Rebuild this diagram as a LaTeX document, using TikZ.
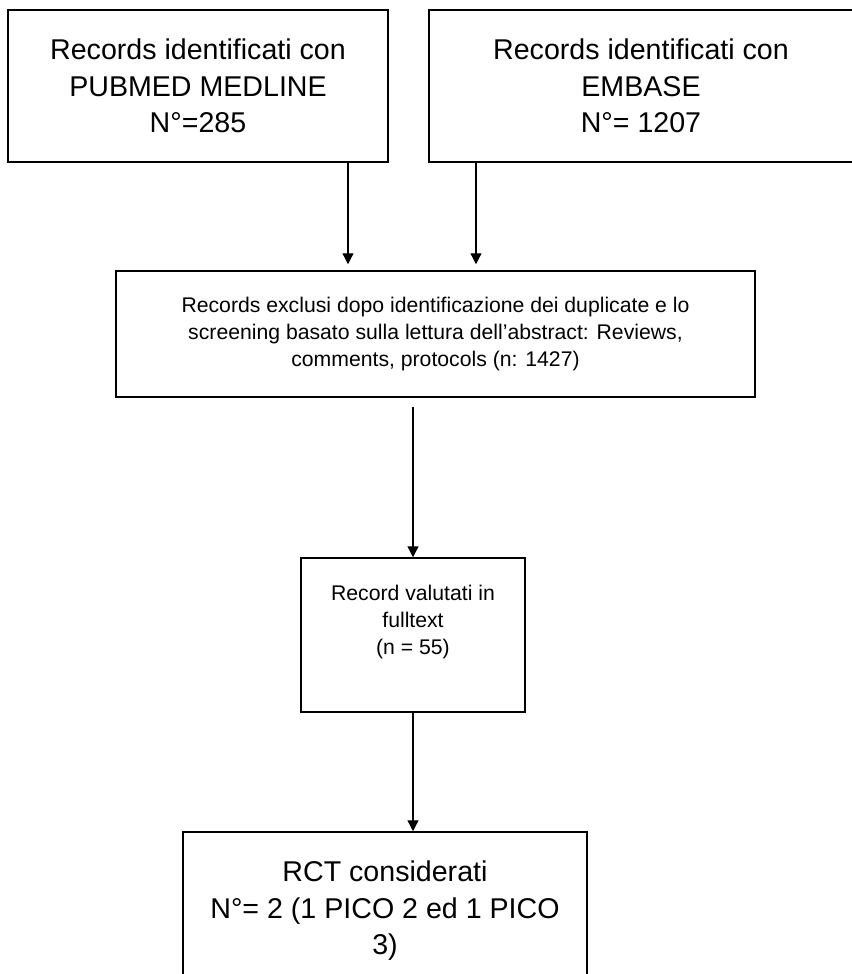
\documentclass[tikz,border=0pt]{standalone}
\usepackage{fontspec}
\setmainfont{Liberation Sans}
\usetikzlibrary{arrows.meta}

\begin{document}
\begin{tikzpicture}[x=1pt,y=-1pt,
  box/.style={draw,line width=1.5pt,align=center,inner sep=0pt},
  big/.style={font=\fontsize{28.6}{36.5}\selectfont},
  small/.style={font=\fontsize{21.2}{27}\selectfont},
  arr/.style={-{Triangle[width=11pt,length=11pt]},line width=1.3pt}]
  \useasboundingbox (0,0) rectangle (851,974);

  % データベース
  \node[box,big,minimum width=380pt,minimum height=152pt] (pubmed) at (198,86) {Records identificati con\\PUBMED MEDLINE\\N°=285};
  \node[box,big,minimum width=424pt,minimum height=152pt] (embase) at (641,86) {Records identificati con\\EMBASE\\N°= 1207};

  % スクリーニング
  \node[box,small,minimum width=639pt,minimum height=126pt] (screen) at (435.5,334) {Records exclusi dopo identificazione dei duplicate e lo\\screening basato sulla lettura dell’abstract: Reviews,\\comments, protocols (n: 1427)};

  % 全文
  \node[box,small,minimum width=224pt,minimum height=154pt,text depth=31pt] (fulltext) at (413,635) {Record valutati in\\fulltext\\(n = 55)};

  % 採用
  \node[box,big,minimum width=404pt,minimum height=158pt] (rct) at (385,911) {RCT considerati\\N°= 2 (1 PICO 2 ed 1 PICO\\3)};

  % 矢印
  \coordinate (p1) at ([xshift=150pt]pubmed.south);
  \coordinate (e1) at ([xshift=-165pt]embase.south);
  \coordinate (s1) at ([xshift=-22.5pt]screen.south);
  \draw[arr,shorten >=6pt] (p1) -- (p1 |- screen.north);
  \draw[arr,shorten >=6pt] (e1) -- (e1 |- screen.north);
  \draw[arr,shorten <=9pt] (s1) -- (s1 |- fulltext.north);
  \draw[arr] (fulltext.south) -- (fulltext.south |- rct.north);
\end{tikzpicture}
\end{document}
